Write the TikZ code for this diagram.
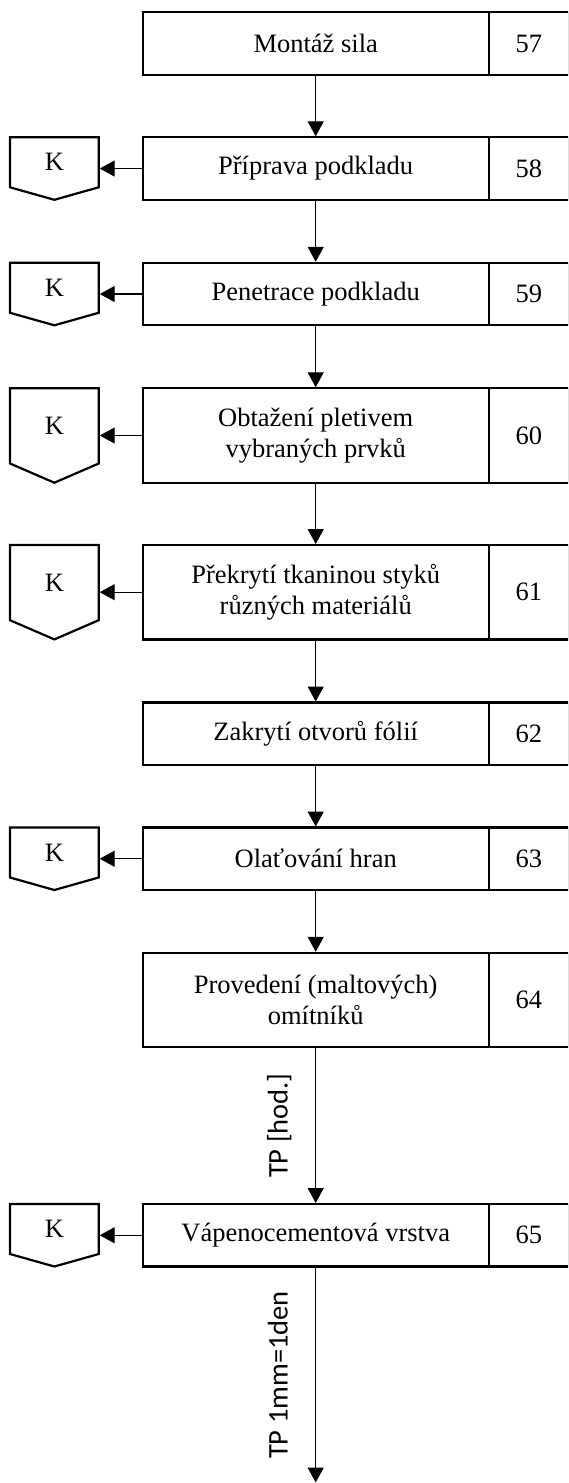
\documentclass[tikz,border=0pt]{standalone}
\usepackage{fontspec}
\setmainfont{Liberation Serif}
\newfontfamily\labelfont{Carlito}
\usetikzlibrary{arrows.meta,calc}

\begin{document}
\begin{tikzpicture}[x=1pt,y=-1pt,
  txt/.style={font=\fontsize{26.5}{31.5}\selectfont},
  stepbox/.style={txt, draw, line width=2.2pt, anchor=north west, inner sep=0pt,
    outer sep=0pt, minimum width=346pt, align=center},
  numbox/.style={txt, draw, line width=2.2pt, anchor=west, inner sep=0pt,
    outer sep=0pt, minimum width=80.5pt},
  kbox/.style={txt, anchor=north west, inner sep=0pt, outer sep=0pt,
    minimum width=88.7pt},
  kline/.style={line width=2.2pt, line join=miter},
  conn/.style={line width=1.3pt, shorten >=1pt,
    -{Triangle[length=15pt,width=16pt]}},
  tplabel/.style={font=\labelfont\fontsize{28.5}{32}\selectfont, rotate=90,
    anchor=base, inner sep=0pt},
  single/.style={minimum height=62.5pt},
  double/.style={minimum height=94.4pt}]

\useasboundingbox (0,0) rectangle (568,1483);
\clip (0,0) rectangle (568,1483);

% process steps: description cell + number cell
\node[stepbox, single] (b57) at (142.7,12.3)  {Montáž sila};
\node[numbox,  single] (n57) at (b57.east) {57};
\node[stepbox, single] (b58) at (142.7,137.3) {Příprava podkladu};
\node[numbox,  single] (n58) at (b58.east) {58};
\node[stepbox, single] (b59) at (142.7,262.8) {Penetrace podkladu};
\node[numbox,  single] (n59) at (b59.east) {59};
\node[stepbox, double] (b60) at (142.7,388.3) {Obtažení pletivem\\vybraných prvků};
\node[numbox,  double] (n60) at (b60.east) {60};
\node[stepbox, double] (b61) at (142.7,545.0) {Překrytí tkaninou styků\\různých materiálů};
\node[numbox,  double] (n61) at (b61.east) {61};
\node[stepbox, single] (b62) at (142.7,702.5) {Zakrytí otvorů fólií};
\node[numbox,  single] (n62) at (b62.east) {62};
\node[stepbox, single] (b63) at (142.7,827.5) {Olaťování hran};
\node[numbox,  single] (n63) at (b63.east) {63};
\node[stepbox, double] (b64) at (142.7,952.8) {Provedení (maltových)\\omítníků};
\node[numbox,  double] (n64) at (b64.east) {64};
\node[stepbox, single] (b65) at (142.7,1204.0) {Vápenocementová vrstva};
\node[numbox,  single] (n65) at (b65.east) {65};

% inspection marks (rectangular part; the pointed bottom is drawn below)
\node[kbox, minimum height=50pt]   (k58) at (10,137.3) {K};
\node[kbox, minimum height=50pt]   (k59) at (10,262.8) {K};
\node[kbox, minimum height=75.2pt] (k60) at (10,388.3) {K};
\node[kbox, minimum height=75.2pt] (k61) at (10,545.0) {K};
\node[kbox, minimum height=50pt]   (k63) at (10,827.5) {K};
\node[kbox, minimum height=50pt]   (k65) at (10,1204.0) {K};

\foreach \k/\d in {k58/12.5, k59/12.5, k60/19.2, k61/19.2, k63/12.5, k65/12.5}
  \draw[kline] (\k.south west) -- (\k.north west) -- (\k.north east)
    -- (\k.south east) -- ($(\k.south)+(0,\d)$) -- cycle;

% flow between steps
\draw[conn] (b57.south) -- (b58.north);
\draw[conn] (b58.south) -- (b59.north);
\draw[conn] (b59.south) -- (b60.north);
\draw[conn] (b60.south) -- (b61.north);
\draw[conn] (b61.south) -- (b62.north);
\draw[conn] (b62.south) -- (b63.north);
\draw[conn] (b63.south) -- (b64.north);
\draw[conn] (b64.south) -- (b65.north);
\coordinate (bottom) at (0,1483.5);
\coordinate (end) at (b65.south |- bottom);
\draw[conn] (b65.south) -- (end);

% technological pauses
\node[tplabel] (tp1) at ($(b64.south)!0.5!(b65.north)+(-28,0)$) {TP [hod.]};
\node[tplabel] (tp2) at ($(b65.south)!0.5!(end)+(-28,0)$) {TP 1mm=1den};

% inspection links
\foreach \b/\k in {b58/k58, b59/k59, b60/k60, b61/k61, b63/k63, b65/k65}
  \draw[conn] (\b.west) -- (\b.west -| \k.east);
\end{tikzpicture}
\end{document}
